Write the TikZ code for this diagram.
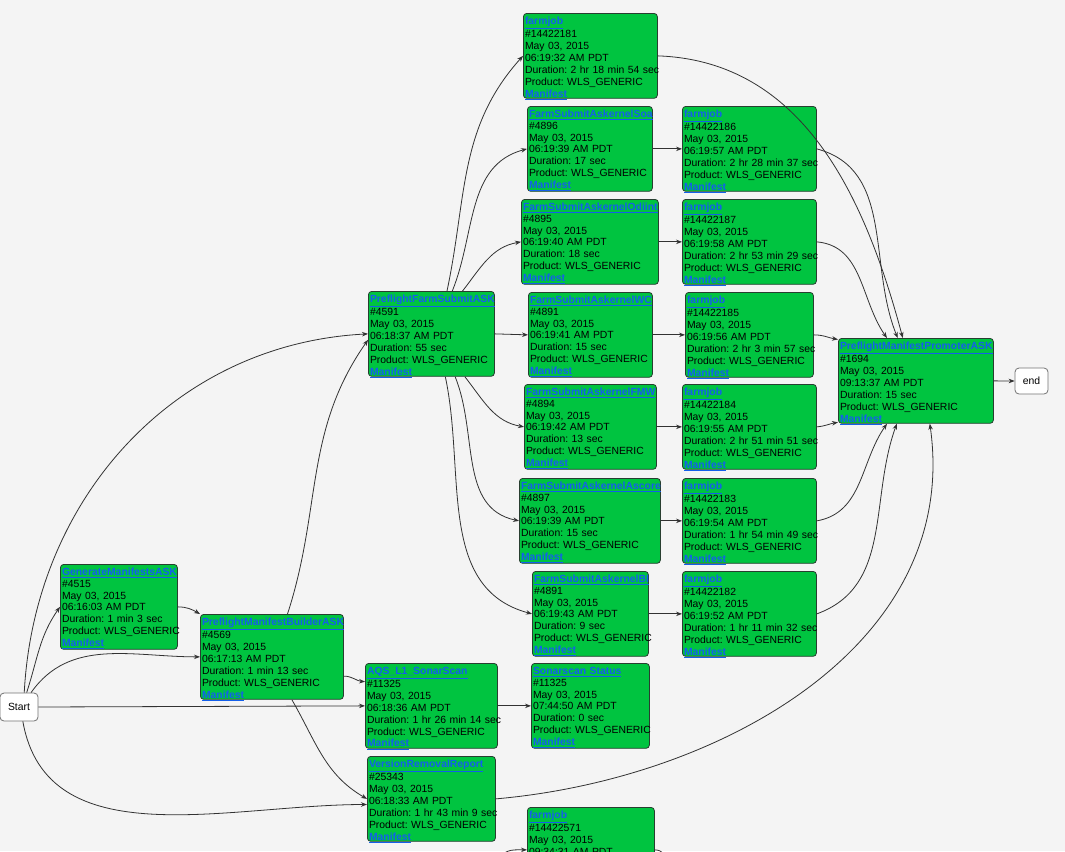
\documentclass[tikz,border=0pt]{standalone}
\usepackage{fontspec}
\setmainfont{Liberation Sans}
\usepackage{tikz}
\usetikzlibrary{arrows.meta,positioning,calc}

\definecolor{jobgreen}{RGB}{0,196,64}
\definecolor{jobedge}{RGB}{40,62,48}
\definecolor{linkblue}{RGB}{20,95,235}
\definecolor{wire}{RGB}{50,50,50}
\definecolor{canvas}{RGB}{244,244,244}
\frenchspacing

\newcommand{\jlink}[1]{\textcolor{linkblue}{\underline{\textbf{#1}}}}
% job box: name, left, top, width (px), title, number, time, duration
\newcommand{\jobnode}[8]{%
  \pgfmathsetlengthmacro{\jw}{#4*0.75pt-2.4pt}%
  \node[job, text width=\jw] (#1) at (#2,-#3)
    {\mbox{\jlink{#5}}\\\mbox{\##6}\\\mbox{May 03, 2015}\\\mbox{#7}\\\mbox{Duration: #8}\\\mbox{Product: WLS\_GENERIC}\\\mbox{\jlink{Manifest}}};}

\begin{document}
\begin{tikzpicture}[x=0.75pt, y=0.75pt, >={Stealth[length=4.5pt,width=3.4pt]}]
\tikzstyle{job}=[draw=jobedge, line width=0.6pt, fill=jobgreen, rounded corners=2.5pt, anchor=north west, align=left, inner xsep=1.2pt, inner ysep=0pt, text height=8.2pt, text depth=55.5pt, font=\fontsize{7.8}{8.9}\selectfont]
\tikzstyle{term}=[draw=black!55, line width=0.6pt, fill=white, rounded corners=3pt, inner sep=0pt, font=\fontsize{7.8}{8.9}\selectfont]
\tikzstyle{wireto}=[->, draw=wire, line width=0.6pt]

\useasboundingbox (0,0) rectangle (1065,-851);
\clip (0,0) rectangle (1065,-851);
\fill[canvas] (0,0) rectangle (1065,-851);

% start / end
\node[term, minimum width=28.5pt, minimum height=21pt] (start) at (19,-707) {Start};
\node[term, minimum width=24.75pt, minimum height=19.5pt] (end) at (1031.5,-381) {end};

% left part
\jobnode{gen}{60}{564}{117}{GenerateManifestsASK}{4515}{06:16:03 AM PDT}{1 min 3 sec}
\jobnode{bld}{200}{614}{143}{PreflightManifestBuilderASK}{4569}{06:17:13 AM PDT}{1 min 13 sec}
\jobnode{pfs}{368}{291}{126}{PreflightFarmSubmitASK}{4591}{06:18:37 AM PDT}{55 sec}
\jobnode{aqs}{365}{663}{132}{AQS\_L1\_SonarScan}{11325}{06:18:36 AM PDT}{1 hr 26 min 14 sec}
\jobnode{vrr}{367}{756}{128}{VersionRemovalReport}{25343}{06:18:33 AM PDT}{1 hr 43 min 9 sec}
\jobnode{son}{531}{663}{118}{Sonarscan Status}{11325}{07:44:50 AM PDT}{0 sec}

% submit column
\jobnode{fj181}{523}{13}{134}{farmjob}{14422181}{06:19:32 AM PDT}{2 hr 18 min 54 sec}
\jobnode{soa}{527}{106}{125}{FarmSubmitAskernelSoa}{4896}{06:19:39 AM PDT}{17 sec}
\jobnode{odi}{521}{199}{137}{FarmSubmitAskernelOdiint}{4895}{06:19:40 AM PDT}{18 sec}
\jobnode{wc}{528}{292}{124}{FarmSubmitAskernelWC}{4891}{06:19:41 AM PDT}{15 sec}
\jobnode{fmw}{524}{384}{132}{FarmSubmitAskernelFMW}{4894}{06:19:42 AM PDT}{13 sec}
\jobnode{asc}{519}{478}{141}{FarmSubmitAskernelAscore}{4897}{06:19:39 AM PDT}{15 sec}
\jobnode{bi}{532}{571}{116}{FarmSubmitAskernelBI}{4891}{06:19:43 AM PDT}{9 sec}
\node[job, text width=92.85pt] (fj571) at (527,-807)
  {\mbox{\jlink{farmjob}}\\\mbox{\#14422571}\\\mbox{May 03, 2015}\\\mbox{09:34:31 AM PDT}};

% farmjob column
\jobnode{fj186}{682}{106}{134}{farmjob}{14422186}{06:19:57 AM PDT}{2 hr 28 min 37 sec}
\jobnode{fj187}{682}{199}{134}{farmjob}{14422187}{06:19:58 AM PDT}{2 hr 53 min 29 sec}
\jobnode{fj185}{685}{292}{128}{farmjob}{14422185}{06:19:56 AM PDT}{2 hr 3 min 57 sec}
\jobnode{fj184}{682}{384}{134}{farmjob}{14422184}{06:19:55 AM PDT}{2 hr 51 min 51 sec}
\jobnode{fj183}{682}{478}{134}{farmjob}{14422183}{06:19:54 AM PDT}{1 hr 54 min 49 sec}
\jobnode{fj182}{682}{571}{134}{farmjob}{14422182}{06:19:52 AM PDT}{1 hr 11 min 32 sec}

\jobnode{prom}{838}{338}{155}{PreflightManifestPromoterASK}{1694}{09:13:37 AM PDT}{15 sec}

\coordinate (in571) at (500,-858);
\coordinate (out571) at (672,-860);

% edges from start
\draw[wireto] (start.70) to[out=87, in=183] (pfs.west);
\draw[wireto] (start.62) to[out=72, in=235] (gen.west);
\draw[wireto] (start.50) to[out=55, in=180] (bld.west);
\draw[wireto] (start.east) -- (aqs.west);
\draw[wireto] (start.-75) to[out=-80, in=180] (vrr.185);
\draw[wireto] (gen.east) to[out=0, in=150] (bld.north west);

% builder
\draw[wireto] (bld.70) to[out=72, in=235] ([yshift=-4.5pt]pfs.west);
\draw[wireto] (bld.-15) to[out=0, in=175] (aqs.160);
\draw[wireto] (bld.-65) to[out=-60, in=150] (vrr.west);

% preflight fan
\draw[wireto] (pfs.70) to[out=78, in=228] (fj181.west);
\draw[wireto] (pfs.64) to[out=68, in=195] (soa.west);
\draw[wireto] (pfs.54) to[out=52, in=190] (odi.west);
\draw[wireto] (pfs.east) -- (wc.west);
\draw[wireto] (pfs.-52) to[out=-52, in=170] (fmw.west);
\draw[wireto] (pfs.-61) to[out=-68, in=168] (asc.west);
\draw[wireto] (pfs.-72) to[out=-78, in=165] (bi.west);

% submit -> farmjob
\draw[wireto] (soa.east) -- (fj186.west);
\draw[wireto] (odi.east) -- (fj187.west);
\draw[wireto] (wc.east) -- (fj185.west);
\draw[wireto] (fmw.east) -- (fj184.west);
\draw[wireto] (asc.east) -- (fj183.west);
\draw[wireto] (bi.east) -- (fj182.west);
\draw[wireto] (aqs.east) -- (son.west);
\draw[wireto] (in571) to[out=60, in=180] (fj571.west);
\draw[draw=wire, line width=0.6pt] (fj571.east) to[out=0, in=150] (out571);

% farmjob -> promoter
\draw[wireto] (fj181.east) to[out=-2, in=105] (prom.107);
\draw[wireto] (fj186.east) to[out=-15, in=112] (prom.113);
\draw[wireto] (fj187.east) to[out=-5, in=125] (prom.124);
\draw[wireto] (fj185.east) to[out=0, in=170] (prom.152);
\draw[wireto] (fj184.east) to[out=5, in=190] (prom.208);
\draw[wireto] (fj183.east) to[out=10, in=235] (prom.236);
\draw[wireto] (fj182.east) to[out=20, in=250] (prom.246);
\draw[wireto] (vrr.east) to[out=5, in=-82] (prom.-72);
\draw[wireto] (prom.east) -- (end.west);
\end{tikzpicture}
\end{document}
